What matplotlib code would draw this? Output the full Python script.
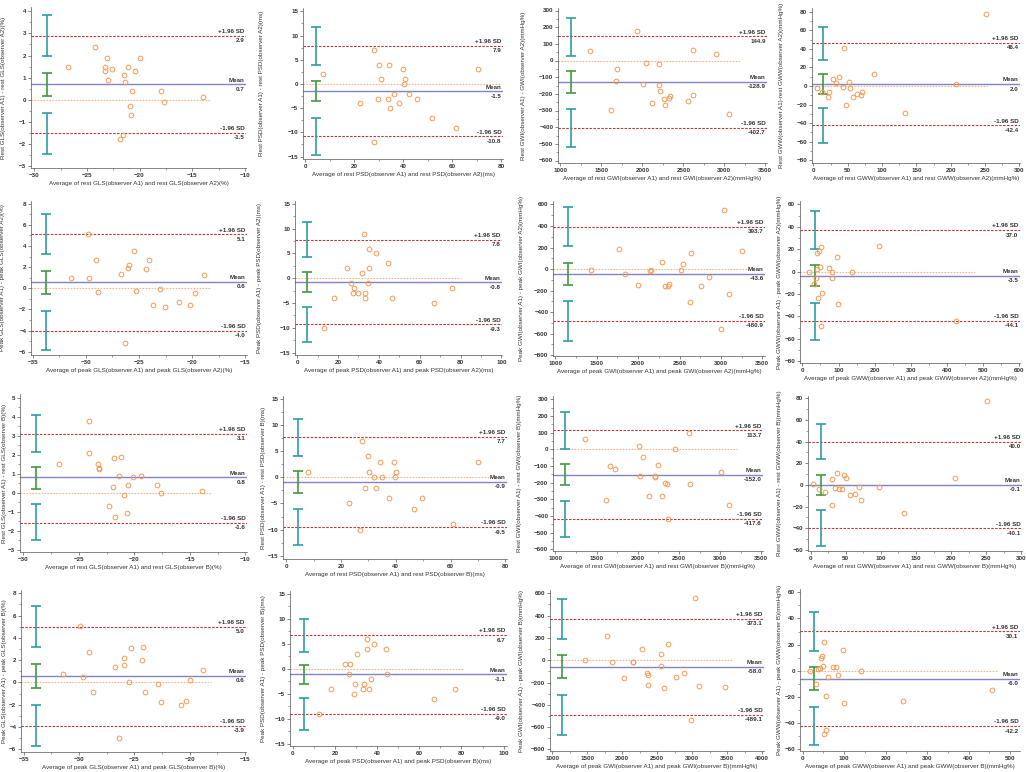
import matplotlib
matplotlib.use('Agg')
import matplotlib.pyplot as plt
from matplotlib import font_manager
from matplotlib.ticker import MultipleLocator, AutoMinorLocator

# ---- data (x = average, y = difference) ----
rest_gls_a2_avg = [-26.8, -24.2, -23.1, -23.3, -23.3, -22.6, -23.0, -21.5, -21.4, -21.1,
                   -20.0, -20.4, -20.7, -20.95, -20.8, -21.55, -21.9, -18.0, -17.7, -14.0]
rest_gls_a2_diff = [1.5, 2.4, 1.9, 1.5, 1.3, 1.4, 0.9, 1.1, 0.8, 1.5,
                    1.9, 1.3, 0.4, -0.3, -0.7, -1.6, -1.8, 0.4, -0.1, 0.1]

rest_psd_a2_avg = [7.3, 27.8, 30.2, 34.2, 39.7, 30.8, 40.7, 40.3, 22.2, 29.7,
                   33.8, 36.2, 34.6, 38.2, 42.2, 45.7, 51.7, 61.7, 70.6, 28.1]
rest_psd_a2_diff = [2, 7, 4, 4, 3, 1, 1, 0, -4, -3,
                    -3, -2, -5, -4, -2, -3, -7, -9, 3, -12]

rest_gwi_a2_avg = [1367, 1934, 1693, 1677, 1616, 2045, 2205, 2011, 2199, 2215,
                   2121, 2268, 2340, 2330, 2276, 2558, 2615, 2615, 2892, 3054]
rest_gwi_a2_diff = [58, 178, -50, -122, -298, -12, -22, -138, -148, -185,
                    -252, -232, -210, -222, -268, -240, -208, 62, 40, -318]

rest_gww_a2_avg = [6, 22, 23, 29, 33, 37, 43, 45, 48, 52,
                   53, 57, 64, 70, 71, 89, 134, 208, 252, 13]
rest_gww_a2_diff = [-2, -12, -7, 7, 3, 10, -1, 41, -21, 4,
                    -2, -12, -9, -10, -6, 13, -29, 2, 77, -7]

peak_gls_a2_avg = [-31.4, -29.7, -29.8, -29.0, -28.9, -26.7, -26.05, -25.9, -25.5, -25.3,
                   -26.3, -24.3, -24.05, -23.7, -23.0, -22.6, -21.25, -20.2, -19.7, -18.9]
peak_gls_a2_diff = [1.0, 1.0, 5.1, 2.7, -0.35, 1.4, 1.9, 2.2, 3.5, -0.3,
                    -5.2, 1.8, 2.7, -1.6, -0.1, -1.8, -1.3, -1.6, -0.45, 1.3]

peak_psd_a2_avg = [13, 18, 24.3, 26.5, 28, 27.5, 30, 31.6, 33.4, 33.1,
                   32.8, 35.2, 35.2, 34.7, 38.7, 44.5, 46.2, 66.9, 76.0]
peak_psd_a2_diff = [-10, -4, 2, -1, -2, -3, -3, 1, -3, -4,
                    9, 6, 2, -1, 5, 3, -4, -5, -2]

peak_gwi_a2_avg = [1435, 1770, 1845, 2000, 2140, 2150, 2285, 2320, 2360, 2370,
                   2540, 2520, 2640, 2625, 2760, 2855, 3035, 3095, 3260, 3005]
peak_gwi_a2_diff = [-5, 190, -45, -150, -20, -10, 62, -155, -155, -135,
                    50, -5, 148, -310, -160, -75, 548, -232, 172, -560]

peak_gww_a2_avg = [19, 40, 47, 52, 40, 49, 38, 33, 55, 42,
                   52, 74, 82, 82, 97, 98, 136, 212, 424]
peak_gww_a2_diff = [-0.3, 17, 18, 22, 2, 4, -6, -11, -19, -24,
                    -49, 3, 0, -6, 13, -29, 0, 23, -44.5]

rest_gls_b_avg = [-26.75, -24.1, -24.1, -23.3, -23.2, -23.2, -21.8, -21.2, -21.4, -21.9,
                  -20.95, -22.3, -21.7, -20.7, -20.6, -20.1, -19.4, -18.0, -17.6, -13.9]
rest_gls_b_diff = [1.5, 3.8, 2.1, 1.5, 1.3, 1.22, 1.8, 1.9, 0.9, 0.3,
                   -0.1, -0.7, -1.3, -1.1, 0.4, 0.8, 0.9, 0.4, 0.0, 0.1]

rest_psd_b_avg = [7.8, 22.9, 27.5, 27, 30, 30.3, 28.9, 31.9, 32.8, 34.2,
                  35, 37.6, 39.2, 40, 39.8, 46.8, 49.7, 60.8, 69.9]
rest_psd_b_diff = [1, -5, 7, -10, 4, 1, -2, 0, -2, 3,
                   0, -4, 3, 1, 0, -6, -4, -9, 3]

rest_gwi_b_avg = [1360, 1665, 1730, 1621, 2020, 2060, 2030, 2135, 2245, 2210,
                  2215, 2290, 2335, 2350, 2365, 2450, 2620, 2635, 3005, 3105]
rest_gwi_b_diff = [62, -100, -117, -306, 18, -44, -162, -278, -92, -158,
                   -168, -278, -202, -205, -420, 2, 98, -205, -138, -335]

rest_gww_b_avg = [4, 12, 20, 30, 31, 34, 37, 41, 44, 48,
                  51, 56, 63, 69, 72, 97, 133, 206, 251]
rest_gww_b_diff = [1, -4, -7, -19, 5, -3, 11, -4, -4, 9,
                   6, -9, -8, -2, -14, -2, -26, 6, 77]

peak_gls_b_avg = [-31.45, -29.9, -29.6, -29.1, -28.7, -26.76, -25.9, -25.9, -25.3, -25.5,
                  -26.4, -24.35, -24.2, -24.0, -22.9, -22.6, -20.8, -20.3, -20.0, -18.8]
peak_gls_b_diff = [0.74, 5.1, 0.5, 2.7, -0.9, 1.4, 2.2, 1.6, 3.1, 0.0,
                   -5.0, 2.0, 3.2, -0.9, -0.15, -1.8, -2.0, -1.65, 0.2, 1.1]

peak_psd_b_avg = [12.6, 18, 24.8, 27, 26.7, 28.9, 29.7, 30.6, 33.3, 33.8,
                  35.2, 35.2, 36.1, 37.1, 38.6, 44, 44.5, 66.9, 77]
peak_psd_b_diff = [-9, -4, 1, 1, -1, -5, -3, 3, -4, -3,
                   6, 4, -4, -2, 5, 4, -1, -6, -4]

peak_gwi_b_avg = [1470, 1780, 1860, 2030, 2150, 2160, 2285, 2355, 2375, 2365,
                  2555, 2560, 2655, 2605, 2770, 2885, 2990, 3040, 3105, 3475]
peak_gwi_b_diff = [-2, 218, -20, -155, -18, -14, 102, -117, -130, -218,
                   55, -55, 148, -245, -150, -117, -535, 556, -233, -240]

peak_gww_b_avg = [17, 32, 36, 44, 46, 48, 52, 55, 52, 56,
                  62, 74, 80, 86, 96, 100, 141, 243, 457, 42]
peak_gww_b_diff = [0, -10, 1, 10, 11, 4, 22, -45, -48, -19,
                   -5, 3, 3, -3, 16, -25, 0, -23, -15, 2]

# mean difference and limits of agreement (as printed on the chart)
mean_diff = [0.7, -1.5, -128.9, 2.0, 0.6, -0.8, -43.6, -3.5,
             0.8, -0.9, -152.0, -0.1, 0.6, -1.1, -58.0, -6.0]
upper_loa = [2.9, 7.9, 144.9, 46.4, 5.1, 7.8, 393.7, 37.0,
             3.1, 7.7, 113.7, 40.0, 5.0, 6.7, 373.1, 30.1]
lower_loa = [-1.5, -10.8, -402.7, -42.4, -4.0, -9.3, -480.9, -44.1,
             -1.6, -9.5, -417.6, -40.1, -3.9, -9.0, -489.1, -42.2]

# 95% confidence intervals (low, high) of the upper limit, mean and lower limit
upper_ci = [(2.0, 3.85), (4.0, 11.8), (30, 258), (28, 64), (3.2, 7.0), (4.2, 11.3), (210, 575), (20, 54),
            (2.15, 4.1), (4.1, 11.2), (5, 225), (23.5, 56.5), (3.2, 6.9), (3.4, 10.0), (195, 550), (15, 45)]
mean_ci = [(0.15, 1.22), (-3.6, 0.7), (-195, -63), (-9, 13), (-0.55, 1.65), (-2.8, 1.2), (-150, 60), (-13, 6),
           (0.2, 1.35), (-3.0, 1.1), (-215, -88), (-9.5, 9.5), (-0.5, 1.65), (-3.0, 0.7), (-160, 45), (-15, 3)]
lower_ci = [(-2.45, -0.62), (-14.6, -7.0), (-518, -290), (-61, -24), (-5.8, -2.1), (-12.9, -5.8), (-665, -300), (-61, -28),
            (-2.5, -0.6), (-13.0, -6.0), (-528, -308), (-56.5, -23.5), (-5.7, -2.05), (-12.3, -5.8), (-670, -315), (-57, -27.5)]

measures = ['GLS', 'PSD', 'GWI', 'GWW']
units = ['%', 'ms', 'mmHg%', 'mmHg%']
y_labels = ['Rest GLS(observer A1) - rest GLS(observer A2)(%)',
            'Rest PSD(observer A1) - rest PSD(observer A2)(ms)',
            'Rest GWI(observer A1) - GWI(observer A2)(mmHg%)',
            'Rest GWW(observer A1)-rest GWW(observer A2)(mmHg%)',
            'Peak GLS(observer A1) - peak GLS(observer A2)(%)',
            'Peak PSD(observer A1) - peak PSD(observer A2)(ms)',
            'Peak GWI(observer A1) - peak GWI(observer A2)(mmHg%)',
            'Peak GWW(observer A1) - peak GWW(observer A2)(mmHg%)',
            'Rest GLS(observer A1) - rest GLS(observer B)(%)',
            'Rest PSD(observer A1) - rest PSD(observer B)(ms)',
            'Rest GWI(observer A1) - rest GWI(observer B)(mmHg%)',
            'Rest GWW(observer A1) - rest GWW(observer B)(mmHg%)',
            'Peak GLS(observer A1) - peak GLS(observer B)(%)',
            'Peak PSD(observer A1) - peak PSD(observer B)(ms)',
            'Peak GWI(observer A1) - peak GWI(observer B)(mmHg%)',
            'Peak GWW(observer A1) - peak GWW(observer B)(mmHg%)']
x_labels = []
for state, obs in [('rest', 'A2'), ('peak', 'A2'), ('rest', 'B'), ('peak', 'B')]:
    for m, u in zip(measures, units):
        x_labels.append(f'Average of {state} {m}(observer A1) and {state} {m}(observer {obs})({u})')

avgs = [rest_gls_a2_avg, rest_psd_a2_avg, rest_gwi_a2_avg, rest_gww_a2_avg,
        peak_gls_a2_avg, peak_psd_a2_avg, peak_gwi_a2_avg, peak_gww_a2_avg,
        rest_gls_b_avg, rest_psd_b_avg, rest_gwi_b_avg, rest_gww_b_avg,
        peak_gls_b_avg, peak_psd_b_avg, peak_gwi_b_avg, peak_gww_b_avg]
diffs = [rest_gls_a2_diff, rest_psd_a2_diff, rest_gwi_a2_diff, rest_gww_a2_diff,
         peak_gls_a2_diff, peak_psd_a2_diff, peak_gwi_a2_diff, peak_gww_a2_diff,
         rest_gls_b_diff, rest_psd_b_diff, rest_gwi_b_diff, rest_gww_b_diff,
         peak_gls_b_diff, peak_psd_b_diff, peak_gwi_b_diff, peak_gww_b_diff]

# ---- layout: axes box in pixels (left, bottom, right, top measured from the top edge) ----
boxes = [(31, 168, 246, 7), (303, 159, 503, 8), (558, 163, 767, 8), (812, 163, 1020, 8),
         (31, 355, 247, 201), (295, 355, 502, 201), (553, 356, 765, 201), (800, 363, 1020, 201),
         (20, 552, 247, 394), (283, 559, 507, 396), (553, 551, 763, 396), (808, 551, 1022, 396),
         (21, 752, 246, 590), (290, 746, 507, 591), (550, 751, 764, 590), (800, 751, 1020, 589)]
# distance in pixels from the y spine to the centre of the y label
ylabel_gap = [27, 41, 35, 31, 28, 35, 31, 21, 15, 20, 33, 29, 16, 26, 28, 21]
xlims = [(-30.3, -9.9), (-1, 80.7), (971, 3520), (-2, 301),
         (-35.15, -14.85), (-1.1, 100.3), (972, 3532), (-6.5, 602),
         (-30.3, -9.85), (-1.2, 80.6), (972, 3520), (-3.8, 301),
         (-35.25, -14.9), (-1.3, 101.6), (967, 4029), (-6.5, 524)]
ylims = [(-3.1, 4.2), (-15.5, 15.7), (-615, 315), (-83, 84),
         (-6.3, 8.25), (-15.5, 15.6), (-808, 632), (-81.6, 63),
         (-3.13, 5.2), (-15.6, 15.5), (-610, 320), (-61, 82),
         (-6.25, 8.3), (-15.4, 15.5), (-814, 630), (-61.3, 62.5)]
x_steps = [5, 20, 500, 50, 5, 20, 500, 100, 5, 20, 500, 50, 5, 20, 500, 100]
y_steps = [1, 5, 100, 20, 2, 5, 200, 20, 1, 5, 100, 20, 2, 5, 200, 20]
ci_x = [-28.8, 4.2, 1135, 14.6, -33.7, 4.9, 1149, 35,
        -28.9, 4.3, 1121, 15.3, -33.9, 5.2, 1133, 28]
eq_end = [-13.3, 79.6, 3190, 253, -18.2, 80, 3360, 477,
          -13.1, 78.8, 3205, 253, -18.1, 80.8, 3586, 468]

W, H = 1026, 772

fam = 'Liberation Sans'
fs = 4.5
try:
    font_manager.findfont('Liberation Sans Narrow', fallback_to_default=False)
    fam = 'Liberation Sans Narrow'
    fs = 5.3
except ValueError:
    pass
plt.rcParams['font.family'] = [fam, 'DejaVu Sans']
plt.rcParams['font.weight'] = 'bold'

teal = '#2e9e9e'
green = '#3f9a3f'
mean_col = '#8484c2'
loa_col = '#b8383c'
pt_col = '#f39a55'
eq_col = '#f6b58a'
txt_col = '#333333'

fig = plt.figure(figsize=(W / 100, H / 100), dpi=100)

for i in range(16):
    l, b, r, t = boxes[i]
    ax = fig.add_axes([l / W, 1 - b / H, (r - l) / W, (b - t) / H])
    x0, x1 = xlims[i]
    ax.set_xlim(x0, x1)
    ax.set_ylim(*ylims[i])

    ax.plot([x0, eq_end[i]], [0, 0], color=eq_col, lw=0.8, ls=(0, (1.5, 1.2)), zorder=1)
    ax.axhline(mean_diff[i], color=mean_col, lw=1.0, zorder=2)
    ax.axhline(upper_loa[i], color=loa_col, lw=0.8, ls=(0, (2.2, 1.3)), zorder=2)
    ax.axhline(lower_loa[i], color=loa_col, lw=0.8, ls=(0, (2.2, 1.3)), zorder=2)

    for (lo, hi), c in [(upper_ci[i], teal), (mean_ci[i], green), (lower_ci[i], teal)]:
        mid = (lo + hi) / 2
        ax.errorbar([ci_x[i]], [mid], yerr=[[mid - lo], [hi - mid]], fmt='none',
                    ecolor=c, elinewidth=1.2, capsize=3.8, capthick=1.2, zorder=3)

    ax.plot(avgs[i], diffs[i], 'o', mfc='none', mec=pt_col, ms=3.4, mew=0.7, zorder=4)

    for val, name in [(upper_loa[i], '+1.96 SD'), (mean_diff[i], 'Mean'), (lower_loa[i], '-1.96 SD')]:
        ax.annotate(name, xy=(1, val), xycoords=('axes fraction', 'data'), xytext=(-1, 1.2),
                    textcoords='offset points', ha='right', va='bottom', fontsize=fs, color=txt_col)
        ax.annotate(f'{val:.1f}', xy=(1, val), xycoords=('axes fraction', 'data'), xytext=(-1, -1.8),
                    textcoords='offset points', ha='right', va='top', fontsize=fs, color=txt_col)

    ax.xaxis.set_major_locator(MultipleLocator(x_steps[i]))
    ax.yaxis.set_major_locator(MultipleLocator(y_steps[i]))
    ax.xaxis.set_minor_locator(AutoMinorLocator(2))
    ax.yaxis.set_minor_locator(AutoMinorLocator(2))
    ax.tick_params(which='major', length=2.2, width=0.5, pad=1.2, labelsize=fs, labelcolor=txt_col, color='#555555')
    ax.tick_params(which='minor', length=1.2, width=0.4, color='#555555')
    for s in ['top', 'right']:
        ax.spines[s].set_visible(False)
    for s in ['left', 'bottom']:
        ax.spines[s].set_linewidth(0.5)
        ax.spines[s].set_color('#555555')

    ax.set_xlabel(x_labels[i], fontsize=fs, color=txt_col, labelpad=2.6)
    ax.set_ylabel(y_labels[i], fontsize=fs, color=txt_col, va='center')
    ax.yaxis.set_label_coords(-ylabel_gap[i] / (r - l), 0.5)

fig.savefig('out.png', dpi=100, facecolor='white')
